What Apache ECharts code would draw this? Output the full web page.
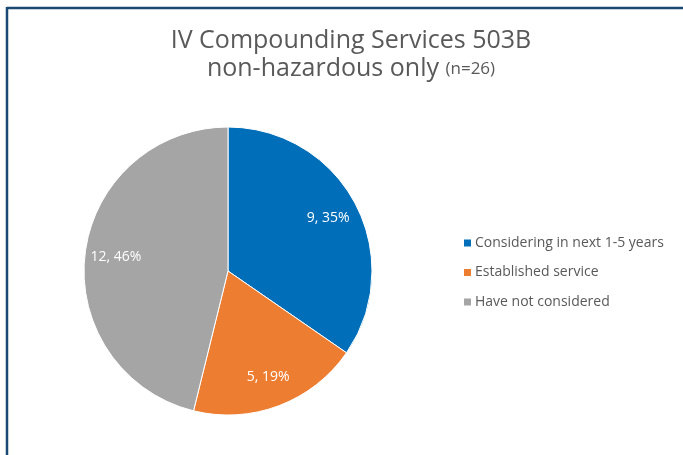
<!DOCTYPE html>
<html>
<head>
<meta charset="utf-8">
<script src="https://cdn.jsdelivr.net/npm/echarts@6/dist/echarts.min.js"></script>
<style>html,body{margin:0;padding:0;background:#fff}#c{width:683px;height:455px}</style>
</head>
<body>
<div id="c"></div>
<script>
const categories = ['Considering in next 1-5 years', 'Established service', 'Have not considered'];
const values = [9, 5, 12];
const percents = ['35%', '19%', '46%'];
const colors = ['#006EB8', '#ED7D31', '#A5A5A5'];

const chart = echarts.init(document.getElementById('c'));
const data = categories.map((n, i) => ({ name: n, value: values[i], itemStyle: { color: colors[i] } }));
const font = '"Open Sans", Lato, sans-serif';
chart.setOption({
  animation: false,
  title: {
    text: '{a|IV Compounding Services 503B}\n{a|non-hazardous only }{b|(n=26)}',
    left: 346, textAlign: 'center', top: 22,
    textStyle: {
      fontWeight: 'normal',
      rich: {
        a: { fontFamily: font, fontSize: 25, fontWeight: 'normal', color: '#595959', lineHeight: 28 },
        b: { fontFamily: font, fontSize: 17, fontWeight: 'normal', color: '#595959', lineHeight: 28 }
      }
    }
  },
  legend: {
    orient: 'vertical', left: 457, top: 231,
    icon: 'rect', itemWidth: 9, itemHeight: 9, itemGap: 15.5,
    data: categories,
    textStyle: { fontFamily: font, fontSize: 14, color: '#595959', padding: [0, 0, 0, -2] }
  },
  graphic: [
    { type: 'line', shape: { x1: 7, y1: 8, x2: 683, y2: 8 }, style: { stroke: '#1A4A72', lineWidth: 2.5 } },
    { type: 'line', shape: { x1: 7, y1: 7, x2: 7, y2: 455 }, style: { stroke: '#1A4A72', lineWidth: 2.5 } }
  ],
  series: [
    {
      type: 'pie', center: [228, 271], radius: [0, 144], startAngle: 90, clockwise: true,
      data: data, label: { show: false }, labelLine: { show: false },
      itemStyle: { borderColor: '#fff', borderWidth: 1 }
    },
    {
      type: 'pie', center: [228, 271], radius: [76, 144], startAngle: 90, clockwise: true, silent: true,
      data: categories.map((n, i) => ({ name: n, value: values[i] })),
      itemStyle: { color: 'rgba(0,0,0,0)' },
      label: {
        show: true, position: 'inside', fontFamily: font, fontSize: 14, color: '#fff',
        formatter: p => values[p.dataIndex] + ', ' + percents[p.dataIndex]
      },
      labelLine: { show: false }, emphasis: { disabled: true }
    }
  ]
});
</script>
</body>
</html>
